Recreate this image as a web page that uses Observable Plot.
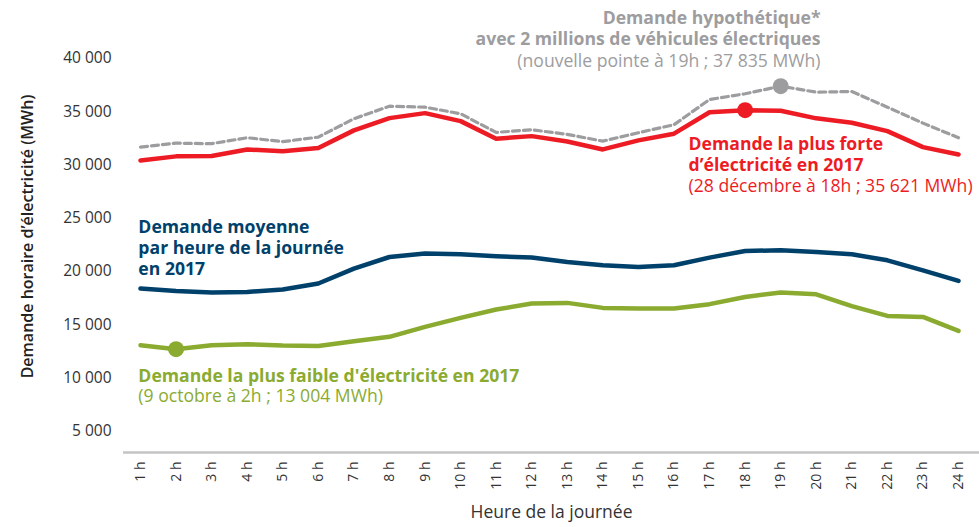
<!DOCTYPE html>
<html>
<head>
<meta charset="utf-8">
<script src="https://cdn.jsdelivr.net/npm/d3@7"></script>
<script src="https://cdn.jsdelivr.net/npm/@observablehq/plot@0.6"></script>
<style>
  html, body { margin: 0; padding: 0; background: #fff; }
  #chart { width: 979px; height: 527px; }
</style>
</head>
<body>
<div id="chart"></div>
<script>
// Hours of the day
const hours = [1,2,3,4,5,6,7,8,9,10,11,12,13,14,15,16,17,18,19,20,21,22,23,24];
const hourLabels = ["1 h","2 h","3 h","4 h","5 h","6 h","7 h","8 h","9 h","10 h","11 h","12 h","13 h","14 h","15 h","16 h","17 h","18 h","19 h","20 h","21 h","22 h","23 h","24 h"];

// Series (MWh)
const hypothetique = [31680,32050,32000,32560,32190,32620,34340,35520,35430,34810,33060,33310,32870,32240,33030,33780,36150,36690,37400,36840,36900,35430,33930,32560];
const plusForte    = [30430,30810,30850,31460,31280,31590,33250,34400,34870,34120,32470,32710,32210,31460,32310,32940,34950,35150,35100,34380,33970,33180,31680,30990];
const moyenne      = [18400,18170,18020,18080,18300,18870,20270,21360,21680,21615,21430,21310,20890,20580,20420,20580,21300,21925,21990,21830,21615,21050,20110,19110];
const plusFaible   = [13080,12700,13080,13170,13050,13010,13450,13860,14800,15640,16430,16990,17050,16580,16520,16520,16930,17610,18020,17860,16740,15830,15730,14420];

// Highlighted points
const peakHours  = [19, 18, 2];
const peakValues = [37400, 35150, 12700];
const peakColors = ["#9d9d9f", "#ed1c24", "#8aab2f"];

// Y axis ticks
const yTicks = [5000,10000,15000,20000,25000,30000,35000,40000];

// Annotation texts
const grayNote  = ["Demande hypothétique*", "avec 2 millions de véhicules électriques", "(nouvelle pointe à 19h ; 37 835 MWh)"];
const redNote   = ["Demande la plus forte", "d’électricité en 2017", "(28 décembre à 18h ; 35 621 MWh)"];
const blueNote  = ["Demande moyenne", "par heure de la journée", "en 2017"];
const greenNote = ["Demande la plus faible d'électricité en 2017", "(9 octobre à 2h ; 13 004 MWh)"];

const C_GRAY = "#9d9d9f", C_RED = "#ed1c24", C_BLUE = "#00416b", C_GREEN = "#8aab2f";

const rows = (vals) => hours.map((h, i) => ({h, v: vals[i]}));

const lineStep = 1990;
const grayRows  = grayNote.map((t, i) => ({t, x: 20.12, y: 43750 - i * lineStep, w: i < 2 ? 700 : 400}));
const redRows   = redNote.map((t, i) => ({t, x: 16.41, y: 31930 - i * lineStep, w: i < 2 ? 700 : 400}));
const blueRows  = blueNote.map((t, i) => ({t, x: 0.94, y: 24150 - i * lineStep, w: 700}));
const greenRows = greenNote.map((t, i) => ({t, x: 0.94, y: 10170 - i * 1880, w: i < 1 ? 700 : 400}));

const fmt = d => d3.format(",")(d).replace(/,/g, " ");

function notes(rowsArr, color, anchor) {
  return [
    Plot.text(rowsArr.filter(d => d.w === 700), {x: "x", y: "y", text: "t", fill: color, textAnchor: anchor, fontWeight: 700, fontSize: 17.6, lineAnchor: "middle"}),
    Plot.text(rowsArr.filter(d => d.w !== 700), {x: "x", y: "y", text: "t", fill: color, textAnchor: anchor, fontWeight: 400, fontSize: 17.6, lineAnchor: "middle"})
  ];
}

const chart = Plot.plot({
  width: 979,
  height: 527,
  marginLeft: 123,
  marginRight: 0,
  marginTop: 58,
  marginBottom: 75,
  style: {fontFamily: "'Open Sans', sans-serif", background: "#fff", overflow: "visible"},
  x: {domain: [0.522, 24.59], axis: null},
  y: {domain: [3000, 40000], axis: null},
  marks: [
    Plot.axisY(yTicks, {tickSize: 0, tickPadding: 12, tickFormat: fmt, fontSize: 15.5, fill: "#333", label: null}),
    Plot.ruleY([3000], {stroke: "#c4c4c4", strokeWidth: 2.5}),
    Plot.axisX(hours, {tickSize: 0, tickPadding: 9, tickRotate: -90, tickFormat: d => hourLabels[d - 1], fontSize: 14, fill: "#333", label: null}),
    Plot.text(["Demande horaire d’électricité (MWh)"], {frameAnchor: "left", textAnchor: "middle", rotate: -90, dx: -96, dy: -19, fontSize: 16, fontWeight: 600, fill: "#222"}),
    Plot.text(["Heure de la journée"], {frameAnchor: "bottom", textAnchor: "middle", dy: 65, fontSize: 17.5, fill: "#333"}),
    Plot.line(rows(hypothetique), {x: "h", y: "v", stroke: C_GRAY, strokeWidth: 3.2, strokeDasharray: "7,4"}),
    Plot.line(rows(plusForte), {x: "h", y: "v", stroke: C_RED, strokeWidth: 4.5}),
    Plot.line(rows(moyenne), {x: "h", y: "v", stroke: C_BLUE, strokeWidth: 4.5}),
    Plot.line(rows(plusFaible), {x: "h", y: "v", stroke: C_GREEN, strokeWidth: 4.5}),
    Plot.dot(peakHours.map((h, i) => ({h, v: peakValues[i], c: peakColors[i]})), {x: "h", y: "v", r: 8, fill: d => d.c, stroke: null}),
    ...notes(grayRows, C_GRAY, "end"),
    ...notes(redRows, C_RED, "start"),
    ...notes(blueRows, C_BLUE, "start"),
    ...notes(greenRows, C_GREEN, "start")
  ]
});
document.getElementById("chart").appendChild(chart);
</script>
</body>
</html>
